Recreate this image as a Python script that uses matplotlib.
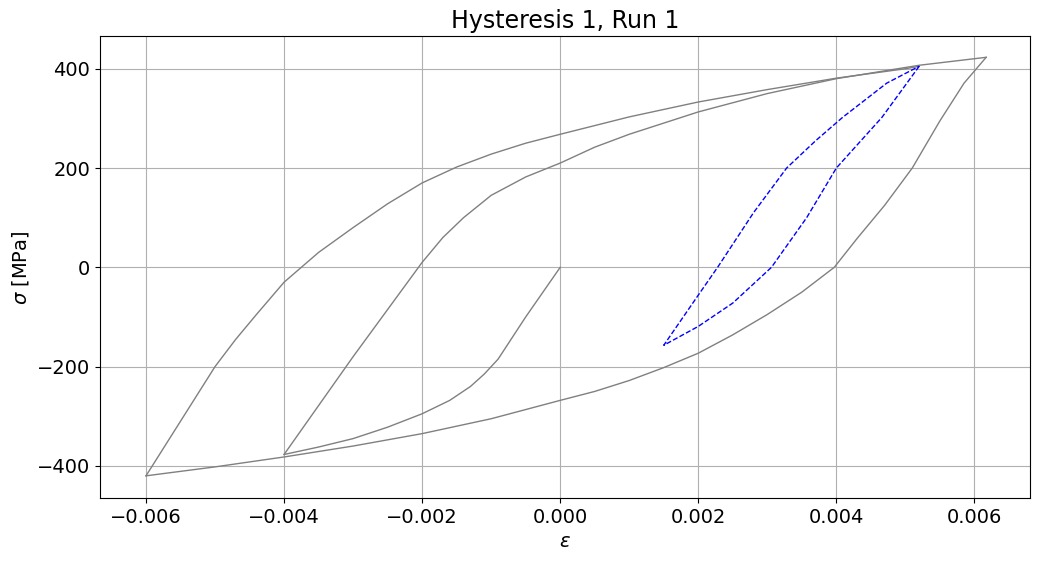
import numpy as np
import matplotlib.pyplot as plt

# branches (strain, stress MPa)
eps_a = [0.0, -0.0005, -0.0009, -0.0011, -0.0013, -0.0016, -0.002, -0.0025, -0.003, -0.0035, -0.004]
sig_a = [0, -100, -185, -215, -240, -268, -295, -322, -345, -362, -377]

eps_b = [-0.004, -0.003, -0.002, -0.0017, -0.0014, -0.001, -0.0005, 0.0, 0.0005, 0.001, 0.002,
         0.003, 0.004, 0.0052, 0.00617]
sig_b = [-377, -180, 10, 60, 100, 145, 182, 210, 242, 268, 313,
         350, 380, 407, 423]

eps_c = [0.00617, 0.00585, 0.0055, 0.0051, 0.0047, 0.0043, 0.00397, 0.0035, 0.003, 0.0025, 0.002,
         0.0015, 0.001, 0.0005, 0.0, -0.001, -0.002, -0.003, -0.004, -0.005, -0.006]
sig_c = [423, 371, 295, 200, 125, 58, 0, -50, -95, -136, -173,
         -202, -228, -250, -268, -305, -335, -360, -382, -402, -420]

eps_d = [-0.006, -0.0055, -0.005, -0.0047, -0.0044, -0.004, -0.0035, -0.003, -0.0025, -0.002,
         -0.0015, -0.001, -0.0005, 0.0, 0.001, 0.002, 0.003, 0.004, 0.005, 0.0052]
sig_d = [-420, -310, -200, -145, -95, -30, 30, 80, 128, 170,
         202, 228, 250, 268, 303, 333, 358, 381, 400, 405]

eps_e = [0.0052, 0.00466, 0.004, 0.00357, 0.00306, 0.0025, 0.002, 0.0015,
         0.002, 0.00228, 0.0028, 0.00328, 0.0037, 0.00409, 0.00473, 0.0052]
sig_e = [405, 302, 200, 100, 0, -72, -119, -157,
         -56, 0, 110, 200, 255, 302, 371, 405]

fig, ax = plt.subplots(figsize=(10.39, 5.61), dpi=100)
for e, s in [(eps_a, sig_a), (eps_b, sig_b), (eps_c, sig_c), (eps_d, sig_d)]:
    ax.plot(e, s, color='gray', lw=1)
ax.plot(eps_e, sig_e, color='blue', ls='--', lw=1)

ax.set_xlim(-0.00667, 0.0068)
ax.set_ylim(-465, 465)
ax.set_xticks([-0.006, -0.004, -0.002, 0.0, 0.002, 0.004, 0.006])
ax.set_yticks([-400, -200, 0, 200, 400])
ax.tick_params(labelsize=14)
ax.grid(True)
ax.set_xlabel(r'$\varepsilon$', fontsize=14)
ax.set_ylabel(r'$\sigma$ [MPa]', fontsize=14)
ax.set_title('Hysteresis 1, Run 1', fontsize=17)
fig.subplots_adjust(left=0.096, right=0.991, top=0.935, bottom=0.112)
fig.savefig('out.png')
